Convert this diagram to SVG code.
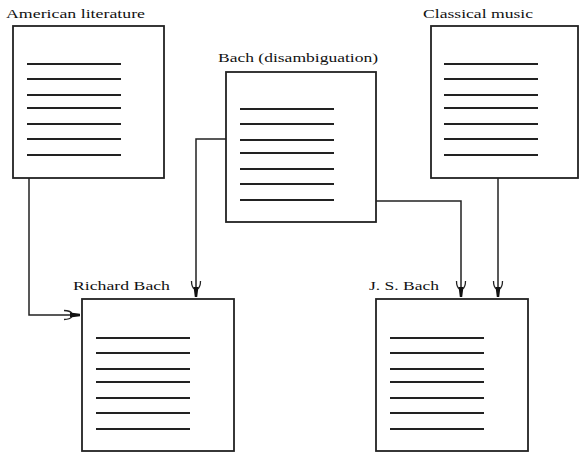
<svg xmlns="http://www.w3.org/2000/svg" width="581" height="453" viewBox="0 0 581 453">
<style>
.box{fill:#fff;stroke:#222;stroke-width:1.8}
.ln{stroke:#222;stroke-width:1.8}
.lbl{font-family:"Liberation Serif","DejaVu Serif",serif;font-size:13.5px;fill:#111}
.conn{fill:none;stroke:#222;stroke-width:1.5}
</style>
<defs>
<marker id="arr" viewBox="-17 -6 19 12" refX="0" refY="0" markerWidth="19" markerHeight="12" markerUnits="userSpaceOnUse" orient="auto">
<path d="M-16,-4.5 Q-10,-4.5 -8,-1.5 M-16,4.5 Q-10,4.5 -8,1.5" fill="none" stroke="#222" stroke-width="1.3"/>
<path d="M-10,-2.4 L0,-1.2 L0,1.2 L-10,2.4 Z" fill="#111"/>
</marker>
<g id="lines">
<line class="ln" x1="0" y1="0" x2="94" y2="0"/>
<line class="ln" x1="0" y1="15" x2="94" y2="15"/>
<line class="ln" x1="0" y1="31" x2="94" y2="31"/>
<line class="ln" x1="0" y1="44" x2="94" y2="44"/>
<line class="ln" x1="0" y1="60" x2="94" y2="60"/>
<line class="ln" x1="0" y1="75" x2="94" y2="75"/>
<line class="ln" x1="0" y1="91" x2="94" y2="91"/>
</g>
</defs>
<g id="connectors">
<path class="conn" d="M29,178 V315 H80" marker-end="url(#arr)"/>
<path class="conn" d="M226,139 H196 V297" marker-end="url(#arr)"/>
<path class="conn" d="M376,201 H461 V297" marker-end="url(#arr)"/>
<path class="conn" d="M498,178 V297" marker-end="url(#arr)"/>
</g>
<g id="american-literature">
<text class="lbl" x="6" y="18" textLength="139" lengthAdjust="spacingAndGlyphs">American literature</text>
<rect class="box" x="13" y="26" width="151" height="152"/>
<use href="#lines" x="27" y="64"/>
</g>
<g id="bach-disambiguation">
<text class="lbl" x="218" y="62" textLength="160" lengthAdjust="spacingAndGlyphs">Bach (disambiguation)</text>
<rect class="box" x="226" y="72" width="150" height="150"/>
<use href="#lines" x="240" y="109"/>
</g>
<g id="classical-music">
<text class="lbl" x="423" y="18" textLength="110" lengthAdjust="spacingAndGlyphs">Classical music</text>
<rect class="box" x="431" y="26" width="147" height="152"/>
<use href="#lines" x="444" y="64"/>
</g>
<g id="richard-bach">
<text class="lbl" x="73" y="290" textLength="97" lengthAdjust="spacingAndGlyphs">Richard Bach</text>
<rect class="box" x="82" y="299" width="152" height="152"/>
<use href="#lines" x="96" y="338"/>
</g>
<g id="js-bach">
<text class="lbl" x="369" y="290" textLength="70" lengthAdjust="spacingAndGlyphs">J. S. Bach</text>
<rect class="box" x="376" y="299" width="152" height="152"/>
<use href="#lines" x="390" y="338"/>
</g>
</svg>
